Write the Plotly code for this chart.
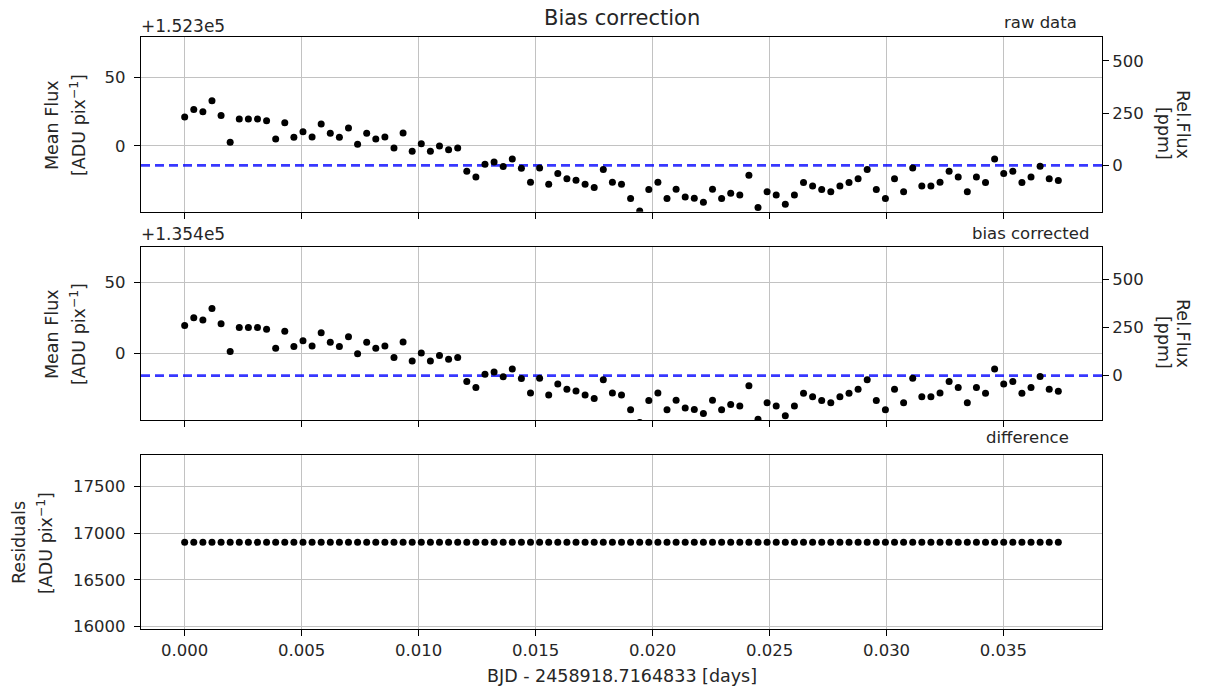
import plotly.graph_objects as go

# ---------------- data ----------------
time_days = [0.0, 0.000389, 0.000778, 0.001167, 0.001556, 0.001945, 0.002334, 0.002723, 0.003112, 0.003501,
             0.00389, 0.004279, 0.004668, 0.005057, 0.005446, 0.005835, 0.006224, 0.006613, 0.007002, 0.007391,
             0.00778, 0.008169, 0.008558, 0.008947, 0.009336, 0.009725, 0.010114, 0.010503, 0.010892, 0.011281,
             0.01167, 0.012059, 0.012448, 0.012837, 0.013226, 0.013615, 0.014004, 0.014393, 0.014782, 0.015171,
             0.01556, 0.015949, 0.016338, 0.016727, 0.017116, 0.017505, 0.017894, 0.018283, 0.018672, 0.019061,
             0.01945, 0.019839, 0.020228, 0.020617, 0.021006, 0.021395, 0.021784, 0.022173, 0.022562, 0.022951,
             0.02334, 0.023729, 0.024118, 0.024507, 0.024896, 0.025285, 0.025674, 0.026063, 0.026452, 0.026841,
             0.02723, 0.027619, 0.028008, 0.028397, 0.028786, 0.029175, 0.029564, 0.029953, 0.030342, 0.030731,
             0.03112, 0.031509, 0.031898, 0.032287, 0.032676, 0.033065, 0.033454, 0.033843, 0.034232, 0.034621,
             0.03501, 0.035399, 0.035788, 0.036177, 0.036566, 0.036955, 0.037344]

raw_flux = [152321.1, 152326.5, 152325.0, 152333.0, 152322.3, 152302.7, 152319.7, 152319.7, 152319.7, 152318.4,
            152305.1, 152317.0, 152306.3, 152310.4, 152306.6, 152316.0, 152309.2, 152306.3, 152313.1, 152301.2,
            152309.2, 152305.1, 152306.6, 152298.5, 152309.5, 152296.1, 152301.7, 152296.1, 152300.0, 152297.3,
            152298.5, 152281.6, 152277.4, 152286.7, 152288.3, 152285.0, 152290.5, 152283.7, 152273.5, 152284.0,
            152272.1, 152279.9, 152276.2, 152275.0, 152272.1, 152269.7, 152282.8, 152273.5, 152272.1, 152261.7,
            152252.7, 152268.2, 152273.5, 152261.7, 152268.4, 152262.9, 152261.9, 152259.0, 152268.4, 152261.7,
            152265.5, 152264.3, 152278.6, 152255.1, 152266.7, 152264.3, 152257.5, 152264.3, 152273.3, 152270.9,
            152268.2, 152266.7, 152270.9, 152273.3, 152276.2, 152282.8, 152268.2, 152261.7, 152276.2, 152266.7,
            152284.0, 152270.9, 152270.9, 152273.5, 152281.6, 152277.4, 152266.7, 152277.4, 152273.3, 152290.5,
            152279.9, 152281.6, 152273.3, 152277.4, 152285.2, 152276.2, 152274.8]

bias_level = 16901.5            # constant bias removed from every frame
raw_reference = 152285.8        # level of the dashed line (0 ppm) in the raw panel

corrected_flux = [v - bias_level for v in raw_flux]
residuals = [r - c for r, c in zip(raw_flux, corrected_flux)]
corrected_reference = raw_reference - bias_level

raw_offset_label = "+1.523e5"
corr_offset_label = "+1.354e5"
raw_offset = 152300
corr_offset = 135400
flux_ticks_rel = [-50, 0, 50]
ppm_ticks = [-250, 0, 250, 500]
resid_ticks = [16000, 16500, 17000, 17500]
time_ticks = [0.0, 0.005, 0.010, 0.015, 0.020, 0.025, 0.030, 0.035]

# axis limits
x_range = [-0.001867, 0.039211]
raw_range = [152252.1, 152379.2]
corr_range = [135353.0, 135475.1]
resid_range = [15975.0, 17836.0]


def to_ppm(lim, ref):
    return [(v - ref) / ref * 1e6 for v in lim]


# ---------------- figure ----------------
W, H = 1205, 688
X0, X1 = 141 / W, 1102 / W


def ydom(top_px, bot_px):
    return [1 - bot_px / H, 1 - top_px / H]


FONT = "DejaVu Sans"
TXT = "#262626"
GRID = "#c2c2c2"
TICK_SIZE = 16.5
LABEL_SIZE = 17.5
tickfont = dict(family=FONT, size=TICK_SIZE, color=TXT)

fig = go.Figure()
marker = dict(color="black", size=7, line=dict(width=0))
dash = dict(color="rgba(0,0,255,0.78)", width=2.8, dash="9px,5px")

# reference (0 ppm) levels, drawn under the points
fig.add_trace(go.Scatter(x=x_range, y=[raw_reference, raw_reference], mode="lines", line=dash,
                         xaxis="x", yaxis="y", showlegend=False, hoverinfo="skip"))
fig.add_trace(go.Scatter(x=x_range, y=[corrected_reference, corrected_reference], mode="lines",
                         line=dash, xaxis="x2", yaxis="y3", showlegend=False, hoverinfo="skip"))

fig.add_trace(go.Scatter(x=time_days, y=raw_flux, mode="markers", marker=marker,
                         xaxis="x", yaxis="y", showlegend=False))
fig.add_trace(go.Scatter(x=[], y=[], mode="markers", xaxis="x", yaxis="y2", showlegend=False))
fig.add_trace(go.Scatter(x=time_days, y=corrected_flux, mode="markers", marker=marker,
                         xaxis="x2", yaxis="y3", showlegend=False))
fig.add_trace(go.Scatter(x=[], y=[], mode="markers", xaxis="x2", yaxis="y4", showlegend=False))
fig.add_trace(go.Scatter(x=time_days, y=residuals, mode="markers", marker=marker,
                         xaxis="x3", yaxis="y5", showlegend=False))

common_axis = dict(showline=True, linecolor="black", linewidth=1.3, mirror=True,
                   ticks="outside", ticklen=6, tickwidth=1.3, tickcolor="black",
                   showgrid=True, gridcolor=GRID, gridwidth=1.3, zeroline=False,
                   tickfont=tickfont, automargin=False)
ycommon = dict(common_axis, ticklabelstandoff=5)

xcommon = dict(common_axis, domain=[X0, X1], range=x_range, tickvals=time_ticks,
               tickformat=".3f")


def flux_ticks(offset):
    vals = [offset + t for t in flux_ticks_rel]
    return vals, [str(t) for t in flux_ticks_rel]


rv, rt = flux_ticks(raw_offset)
cv, ct = flux_ticks(corr_offset)

right_axis = dict(side="right", showgrid=False, zeroline=False, showline=False,
                  ticks="outside", ticklen=6, tickwidth=1.3, tickcolor="black",
                  tickfont=tickfont, tickvals=ppm_ticks, automargin=False)

fig.update_layout(
    width=W, height=H,
    margin=dict(l=0, r=0, t=0, b=0),
    paper_bgcolor="white", plot_bgcolor="white",
    font=dict(family=FONT, color=TXT),
    xaxis=dict(xcommon, anchor="y", showticklabels=False),
    yaxis=dict(ycommon, domain=ydom(37.3, 211.7), anchor="x", range=raw_range,
               tickvals=rv, ticktext=rt),
    yaxis2=dict(right_axis, overlaying="y", anchor="x",
                range=to_ppm(raw_range, raw_reference)),
    xaxis2=dict(xcommon, anchor="y3", showticklabels=False),
    yaxis3=dict(ycommon, domain=ydom(246.7, 420.0), anchor="x2", range=corr_range,
                tickvals=cv, ticktext=ct),
    yaxis4=dict(right_axis, overlaying="y3", anchor="x2",
                range=to_ppm(corr_range, corrected_reference)),
    xaxis3=dict(xcommon, anchor="y5"),
    yaxis5=dict(ycommon, domain=ydom(455.0, 629.0), anchor="x3", range=resid_range,
                tickvals=resid_ticks, tickformat="d"),
)


def ann(text, x_px, y_px, size=LABEL_SIZE, xanchor="center", angle=0):
    fig.add_annotation(text=text, x=x_px / W, y=1 - y_px / H, xref="paper", yref="paper",
                       showarrow=False, xanchor=xanchor, yanchor="middle", textangle=angle,
                       font=dict(family=FONT, size=size, color=TXT))


ann("Bias correction", 621.5, 18, size=21)
ann(raw_offset_label, 139, 26, size=17, xanchor="left")
ann("raw data", 1079, 22, size=16.5, xanchor="right")
ann(corr_offset_label, 139, 234, size=17, xanchor="left")
ann("bias corrected", 1091, 234, size=16.5, xanchor="right")
ann("difference", 1071, 437, size=16.5, xanchor="right")
ann("BJD - 2458918.7164833 [days]", 621.5, 676)

ylab2 = "[ADU pix<sup>−1</sup>]"
ann("Mean Flux", 52, 125, angle=-90)
ann(ylab2, 78, 125, angle=-90)
ann("Mean Flux", 52, 334, angle=-90)
ann(ylab2, 78, 334, angle=-90)
ann("Residuals", 19, 543, angle=-90)
ann(ylab2, 45, 543, angle=-90)
ann("Rel.Flux", 1183, 124, angle=90)
ann("[ppm]", 1164, 133, angle=90)
ann("Rel.Flux", 1183, 333, angle=90)
ann("[ppm]", 1164, 342, angle=90)

fig.write_html("out.html")
